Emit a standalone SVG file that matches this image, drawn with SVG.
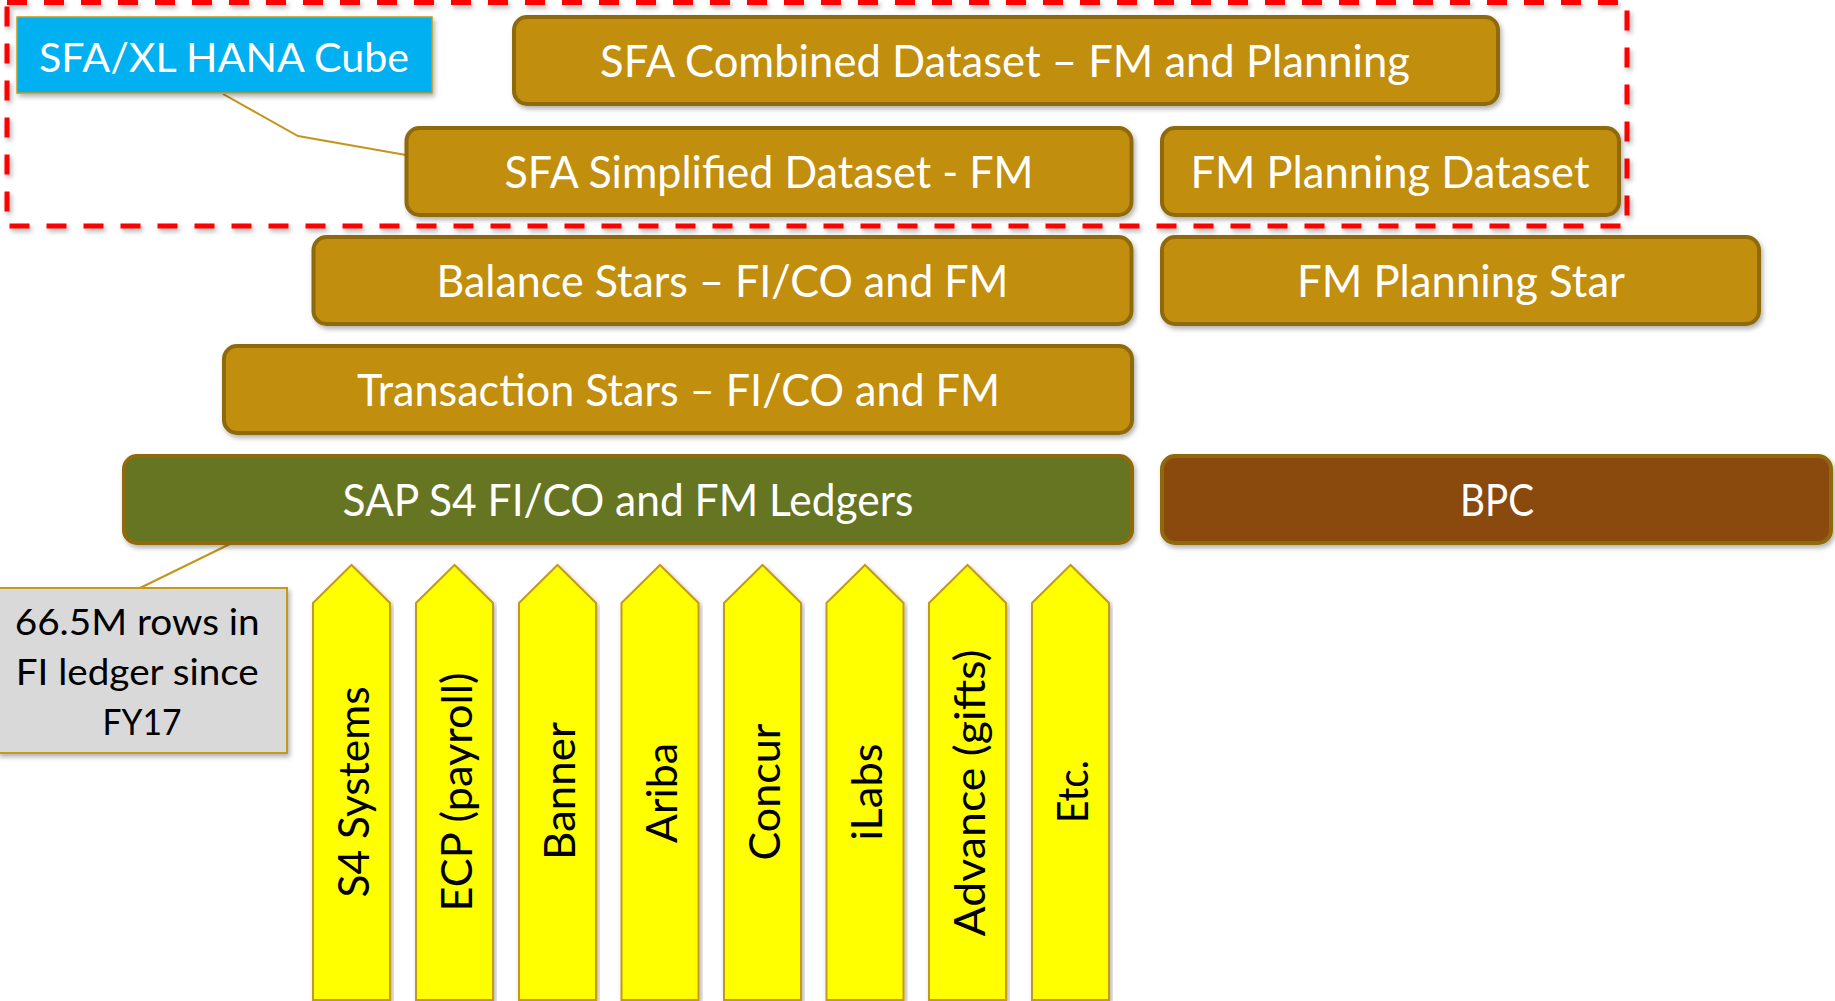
<svg xmlns="http://www.w3.org/2000/svg" width="1835" height="1001" viewBox="0 0 1835 1001">
<defs>
<filter id="sh" x="-5%" y="-5%" width="110%" height="120%">
<feDropShadow dx="2" dy="3" stdDeviation="2.5" flood-color="#000" flood-opacity="0.3"/>
</filter>
<style>
.box{stroke:#8F6A08;stroke-width:4}
.gold{fill:#C18E0F}
.green{fill:#657522}
.brown{fill:#8A4A10}
.wt{fill:#FFFFFF;font-family:Lato,"Open Sans","Liberation Sans",sans-serif;font-size:44.5px;text-anchor:middle}
.bt{fill:#000000;font-family:Lato,"Open Sans","Liberation Sans",sans-serif;text-anchor:middle}
.arrow{fill:#FFFF00;stroke:#C49A1C;stroke-width:2}
.conn{fill:none;stroke:#C4941C;stroke-width:2}
</style>
</defs>
<rect x="1" y="0" width="1834" height="1001" fill="#FFFFFF"/>

<g id="group-boundary">
<rect x="7" y="2.5" width="1620" height="223.5" fill="none" stroke="#FF0000" stroke-width="5" stroke-dasharray="20 17" filter="url(#sh)"/>
</g>

<g id="connectors">
<polyline class="conn" points="223,94 298,136 406,155"/>
<polyline class="conn" points="140,588 232,543"/>
</g>

<g id="node-cube">
<rect x="17" y="17" width="415" height="76" fill="#00B0F0" stroke="#C49A1C" stroke-width="1.5" filter="url(#sh)"/>
<text class="wt" x="224" y="72" style="font-size:40px" textLength="370" lengthAdjust="spacingAndGlyphs">SFA/XL HANA Cube</text>
</g>

<g id="node-combined">
<rect class="box gold" x="514" y="17" width="984" height="87" rx="13" filter="url(#sh)"/>
<text class="wt" x="1005" y="77" textLength="810" lengthAdjust="spacingAndGlyphs">SFA Combined Dataset – FM and Planning</text>
</g>

<g id="node-simplified">
<rect class="box gold" x="406.5" y="128" width="725" height="87" rx="13" filter="url(#sh)"/>
<text class="wt" x="769" y="188" textLength="529" lengthAdjust="spacingAndGlyphs">SFA Simplified Dataset - FM</text>
</g>

<g id="node-fm-planning-dataset">
<rect class="box gold" x="1162" y="128" width="457" height="87" rx="13" filter="url(#sh)"/>
<text class="wt" x="1390" y="188" textLength="399" lengthAdjust="spacingAndGlyphs">FM Planning Dataset</text>
</g>

<g id="node-balance">
<rect class="box gold" x="313.5" y="237" width="818" height="87" rx="13" filter="url(#sh)"/>
<text class="wt" x="722.5" y="297" textLength="572" lengthAdjust="spacingAndGlyphs">Balance Stars – FI/CO and FM</text>
</g>

<g id="node-fm-planning-star">
<rect class="box gold" x="1162" y="237" width="597" height="87" rx="13" filter="url(#sh)"/>
<text class="wt" x="1461" y="297" textLength="328" lengthAdjust="spacingAndGlyphs">FM Planning Star</text>
</g>

<g id="node-transaction">
<rect class="box gold" x="224" y="346" width="908" height="87" rx="13" filter="url(#sh)"/>
<text class="wt" x="678.5" y="406" textLength="643" lengthAdjust="spacingAndGlyphs">Transaction Stars – FI/CO and FM</text>
</g>

<g id="node-sap">
<rect class="box green" x="124" y="456" width="1008" height="87" rx="13" filter="url(#sh)"/>
<text class="wt" x="628" y="516" textLength="571" lengthAdjust="spacingAndGlyphs">SAP S4 FI/CO and FM Ledgers</text>
</g>

<g id="node-bpc">
<rect class="box brown" x="1162" y="456" width="669" height="87" rx="13" filter="url(#sh)"/>
<text class="wt" x="1497" y="516" textLength="74" lengthAdjust="spacingAndGlyphs">BPC</text>
</g>

<g id="node-note">
<rect x="-2" y="588" width="289" height="165" fill="#D9D9D9" stroke="#C49A1C" stroke-width="2" filter="url(#sh)"/>
<text class="bt" style="font-size:37.5px">
<tspan x="142" y="635" textLength="245" lengthAdjust="spacingAndGlyphs">66.5M rows in</tspan>
<tspan x="142" y="685" textLength="243" lengthAdjust="spacingAndGlyphs">FI ledger since</tspan>
<tspan x="142" y="735" textLength="79" lengthAdjust="spacingAndGlyphs">FY17</tspan>
</text>
</g>

<g id="node-s4-systems">
<path class="arrow" d="M313,1000 V603 L351.5,565 L390,603 V1000 Z" filter="url(#sh)"/>
<text class="bt" style="font-size:43px" transform="translate(368.5,792) rotate(-90)" textLength="211" lengthAdjust="spacingAndGlyphs">S4 Systems</text>
</g>
<g id="node-ecp">
<path class="arrow" d="M416,1000 V603 L454.5,565 L493,603 V1000 Z" filter="url(#sh)"/>
<text class="bt" style="font-size:43px" transform="translate(471.5,792) rotate(-90)" textLength="239" lengthAdjust="spacingAndGlyphs">ECP (payroll)</text>
</g>
<g id="node-banner">
<path class="arrow" d="M519,1000 V603 L557.5,565 L596,603 V1000 Z" filter="url(#sh)"/>
<text class="bt" style="font-size:43px" transform="translate(574.5,791) rotate(-90)" textLength="138" lengthAdjust="spacingAndGlyphs">Banner</text>
</g>
<g id="node-ariba">
<path class="arrow" d="M621.5,1000 V603 L660,565 L698.5,603 V1000 Z" filter="url(#sh)"/>
<text class="bt" style="font-size:43px" transform="translate(677,793) rotate(-90)" textLength="100" lengthAdjust="spacingAndGlyphs">Ariba</text>
</g>
<g id="node-concur">
<path class="arrow" d="M724,1000 V603 L762.5,565 L801,603 V1000 Z" filter="url(#sh)"/>
<text class="bt" style="font-size:43px" transform="translate(779.5,792) rotate(-90)" textLength="137" lengthAdjust="spacingAndGlyphs">Concur</text>
</g>
<g id="node-ilabs">
<path class="arrow" d="M826.5,1000 V603 L865,565 L903.5,603 V1000 Z" filter="url(#sh)"/>
<text class="bt" style="font-size:43px" transform="translate(882,792) rotate(-90)" textLength="97" lengthAdjust="spacingAndGlyphs">iLabs</text>
</g>
<g id="node-advance">
<path class="arrow" d="M929,1000 V603 L967.5,565 L1006,603 V1000 Z" filter="url(#sh)"/>
<text class="bt" style="font-size:43px" transform="translate(984.5,793) rotate(-90)" textLength="287" lengthAdjust="spacingAndGlyphs">Advance (gifts)</text>
</g>
<g id="node-etc">
<path class="arrow" d="M1032,1000 V603 L1070.5,565 L1109,603 V1000 Z" filter="url(#sh)"/>
<text class="bt" style="font-size:43px" transform="translate(1087.5,791.5) rotate(-90)" textLength="63" lengthAdjust="spacingAndGlyphs">Etc.</text>
</g>
</svg>
